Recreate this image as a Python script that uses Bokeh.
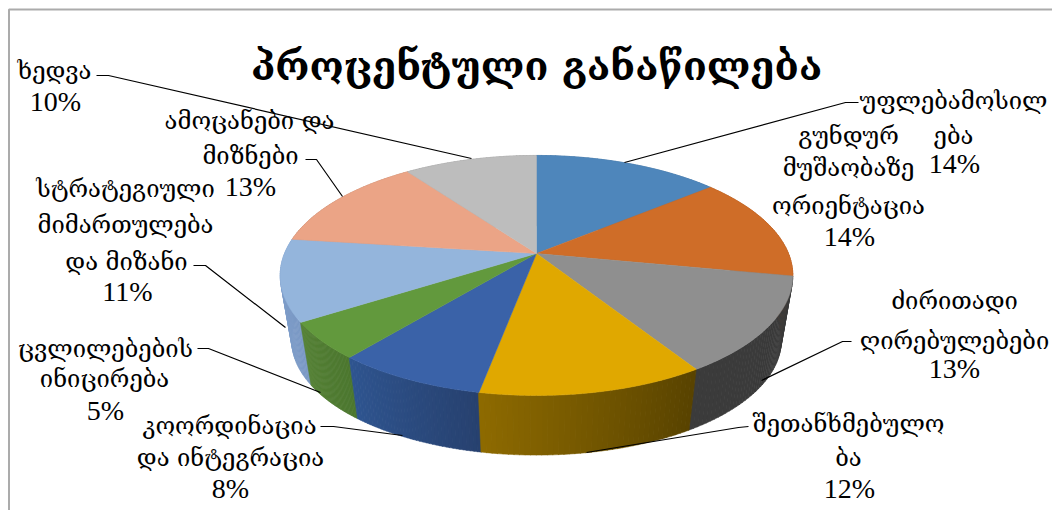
import math
from bokeh.plotting import figure
from bokeh.core.properties import value
from bokeh.embed import file_html
from bokeh.resources import INLINE

# Slice shares in percent, clockwise from twelve o'clock
categories = ["უფლებამოსილება", "გუნდურ მუშაობაზე ორიენტაცია", "ძირითადი ღირებულებები",
              "შეთანხმებულობა", "კოორდინაცია და ინტეგრაცია", "ცვლილებების ინიცირება",
              "სტრატეგიული მიმართულება და მიზანი", "ამოცანები და მიზნები", "ხედვა"]
shares = [14, 14, 13, 12, 8, 5, 11, 13, 10]
top_colors = ["#4E86BB", "#CF6D28", "#8F8F8F", "#E0A800", "#3A62A8",
              "#62993D", "#94B5DC", "#EBA486", "#BDBDBD"]
wall_left = ["#3F6C98", "#A85820", "#3B3B3B", "#8E6A00", "#2F5590",
             "#558136", "#85A6D0", "#BD8369", "#989898"]
wall_right = ["#3F6C98", "#A85820", "#3B3B3B", "#584300", "#27416F",
              "#4C772F", "#7A98C4", "#BD8369", "#989898"]

title_text = "პროცენტული განაწილება"

# Each label line: text, centre x, centre y
label_lines = [
    ("ხედვა", 54, 70), ("10%", 55, 101),
    ("ამოცანები და", 249, 120), ("მიზნები", 250, 155), ("13%", 250, 186),
    ("სტრატეგიული", 125, 188), ("მიმართულება", 125, 224), ("და მიზანი", 126, 261), ("11%", 127, 291),
    ("ცვლილებების", 105, 348), ("ინიცირება", 104, 378), ("5%", 105, 410),
    ("კოორდინაცია", 229, 425), ("და ინტეგრაცია", 230, 457), ("8%", 230, 488),
    ("შეთანხმებულო", 848, 423), ("ბა", 848, 457), ("12%", 849, 488),
    ("ძირითადი", 954, 300), ("ღირებულებები", 954, 340), ("13%", 954, 368),
    ("უფლებამოსილ", 953, 100), ("ება", 953, 135), ("14%", 954, 163),
    ("გუნდურ", 848, 135), ("მუშაობაზე", 848, 167), ("ორიენტაცია", 848, 205), ("14%", 849, 236),
]

# Elbowed connectors from labels to slices
leaders = [
    ([96, 108, 471], [75, 75, 158]),
    ([305, 316, 342], [159, 159, 196]),
    ([193, 205, 285], [265, 265, 327]),
    ([197, 208, 320], [348, 348, 392]),
    ([320, 333, 402], [426, 426, 435]),
    ([748, 738, 586], [426, 427, 452]),
    ([851, 842, 761], [341, 341, 380]),
    ([858, 845, 624], [102, 102, 162]),
]

# Perspective projection of the pie disc
CX, CY = 536, 253
RX, RY, K = 252, 116, 0.183
WALL_DY, WALL_SCALE = 66, 0.955


def project(theta, lower=False):
    u, v = math.sin(theta), -math.cos(theta)
    d = 1 - K * v
    s = WALL_SCALE if lower else 1
    dy = WALL_DY if lower else 0
    return CX + s * RX * u / d, CY + dy + s * RY * v / d


def mix(a, b, t):
    ca = [int(a[i:i + 2], 16) for i in (1, 3, 5)]
    cb = [int(b[i:i + 2], 16) for i in (1, 3, 5)]
    return "#%02x%02x%02x" % tuple(round(x + (y - x) * t) for x, y in zip(ca, cb))


p = figure(width=1052, height=510, x_range=(0, 1052), y_range=(510, 0),
           output_backend="svg", toolbar_location=None,
           min_border=0, outline_line_color=None)
p.axis.visible = False
p.grid.visible = False
p.background_fill_color = "white"
p.border_fill_color = "white"

# Chart frame, open towards the right and bottom edges
p.line([8.5, 8.5, 1052], [510, 9, 9], line_color="#ABABAB", line_width=2)

total = sum(shares)
edges = [0.0]
for s in shares:
    edges.append(edges[-1] + s / total * 2 * math.pi)

# Side wall, split into thin strips for a horizontal shading
wx, wy, wc = [], [], []
for i in range(len(shares)):
    n = 40
    for j in range(n):
        a = edges[i] + (edges[i + 1] - edges[i]) * j / n
        b = edges[i] + (edges[i + 1] - edges[i]) * (j + 1) / n + 0.002
        pts = [project(a), project(b), project(b, True), project(a, True)]
        wx.append([q[0] for q in pts])
        wy.append([q[1] for q in pts])
        wc.append(mix(wall_right[i], wall_left[i], (j + 0.5) / n))
order = sorted(range(len(wx)), key=lambda k: max(wy[k]))
p.patches([wx[k] for k in order], [wy[k] for k in order],
          fill_color=[wc[k] for k in order], line_color=[wc[k] for k in order], line_width=0.5)

# Top face
xs, ys = [], []
for i in range(len(shares)):
    steps = 80
    arc = [project(edges[i] + (edges[i + 1] - edges[i]) * j / steps) for j in range(steps + 1)]
    xs.append([CX] + [q[0] for q in arc])
    ys.append([CY] + [q[1] for q in arc])
p.patches(xs, ys, fill_color=top_colors, line_color=top_colors, line_width=0.5)

for lx, ly in leaders:
    p.line(lx, ly, line_color="black", line_width=1.2)

SERIF = value("DejaVu Serif")
p.text([CX], [65], text=[title_text], text_font=SERIF, text_font_style="bold",
       text_font_size="39px", text_align="center", text_baseline="middle", text_color="black")

words = [l for l in label_lines if "%" not in l[0]]
percents = [l for l in label_lines if "%" in l[0]]
p.text([l[1] for l in words], [l[2] for l in words], text=[l[0] for l in words],
       text_font=SERIF, text_font_size="23.8px",
       text_align="center", text_baseline="middle", text_color="black")
p.text([l[1] for l in percents], [l[2] for l in percents], text=[l[0] for l in percents],
       text_font=value("Liberation Serif"), text_font_size="28px",
       text_align="center", text_baseline="middle", text_color="black")

open("out.html", "w").write(file_html(p, INLINE))
